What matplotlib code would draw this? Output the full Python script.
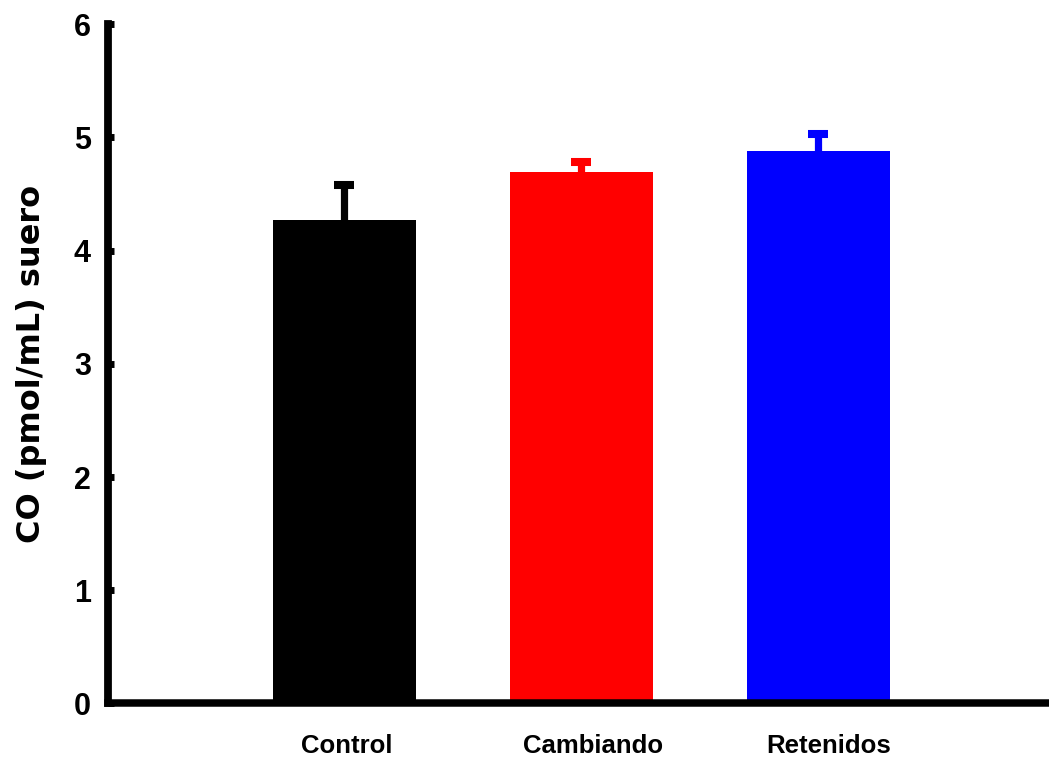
import matplotlib
matplotlib.use("Agg")
import matplotlib.pyplot as plt
import matplotlib.transforms as mtransforms
import numpy as np

categories = ["Control", "Cambiando", "Retenidos"]
values = [4.27, 4.69, 4.88]
errors = [0.31, 0.09, 0.15]
colors = ["#000000", "#ff0000", "#0000ff"]
yticks = [0, 1, 2, 3, 4, 5, 6]
ylabel = "CO (pmol/mL) suero"

plt.rcParams['font.family'] = ['Liberation Sans', 'DejaVu Sans']
plt.rcParams['font.weight'] = 'bold'

fig = plt.figure(figsize=(10.49, 7.58), dpi=100)
ax = fig.add_axes([0.1025, 0.0719, 0.8975, 0.8964])

x = np.arange(len(categories))
ax.bar(x, values, width=0.603, color=colors, zorder=2)
for xi, v, e, c in zip(x, values, errors, colors):
    ax.errorbar(xi, v, yerr=[[0], [e]], fmt='none', ecolor=c, elinewidth=5.2,
                capsize=0, zorder=1)
    ax.plot([xi], [v + e], marker='_', markersize=14.5, markeredgewidth=5.8,
            color=c, zorder=3, clip_on=False)

ax.set_xlim(-1.0, 2.973)
ax.set_ylim(0, 6)
ax.set_yticks(yticks)
ax.set_yticklabels([str(t) for t in yticks])
ax.set_xticks(x)
ax.set_xticklabels(categories)

ax.spines['top'].set_visible(False)
ax.spines['right'].set_visible(False)
ax.spines['left'].set_linewidth(5.6)
ax.spines['bottom'].set_linewidth(5.4)
ax.tick_params(axis='y', direction='in', length=4.5, width=5, pad=12,
               labelsize=22)
ax.tick_params(axis='x', length=0, pad=22, labelsize=18.5)
for lab in ax.get_yticklabels() + ax.get_xticklabels():
    lab.set_fontweight('bold')

# small horizontal nudges of the category labels as in the original
label_shift_pt = [1.5, 8.0, 7.5]
for lab, dx in zip(ax.get_xticklabels(), label_shift_pt):
    lab.set_transform(lab.get_transform() +
                      mtransforms.ScaledTranslation(dx / 72, 0, fig.dpi_scale_trans))

ax.set_ylabel(ylabel, fontsize=23, fontweight='bold', labelpad=19,
              family=['DejaVu Sans'])

fig.savefig("out.png", dpi=100)
